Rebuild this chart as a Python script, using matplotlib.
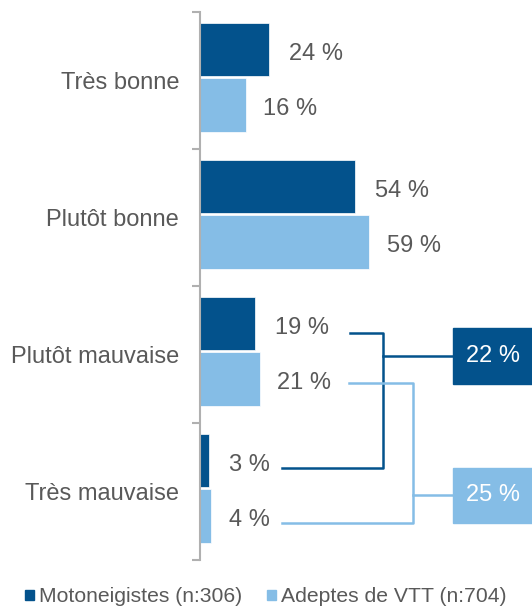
import matplotlib.pyplot as plt
from matplotlib.patches import Patch, Rectangle

plt.rcParams['font.family'] = ['Liberation Sans', 'DejaVu Sans']

# donnees -------------------------------------------------------------
categories = ['Très bonne', 'Plutôt bonne', 'Plutôt mauvaise', 'Très mauvaise']
moto = [24, 54, 19, 3]
vtt = [16, 59, 21, 4]
series_names = ['Motoneigistes (n:306)', 'Adeptes de VTT (n:704)']

dark = '#03528C'
light = '#85BDE6'
grey = '#595959'

fig = plt.figure(figsize=(5.32, 6.09), dpi=100)
ax = fig.add_axes([200 / 532, 49 / 609, 332 / 532, 548 / 609])

y_dark = [i + 0.275 for i in range(len(categories))]
y_light = [i + 0.68 for i in range(len(categories))]
ax.barh(y_dark, moto, height=0.39, color=dark, edgecolor='white', linewidth=0.5)
ax.barh(y_light, vtt, height=0.39, color=light, edgecolor='white', linewidth=0.5)

ax.set_xlim(0, 332 / 2.87)
ax.set_ylim(4, 0)

# etiquettes des barres
for y, v in zip(y_dark, moto):
    ax.text(v + 7, y + 0.03, f'{v} %', ha='left', va='center', fontsize=17, color=grey)
for y, v in zip(y_light, vtt):
    ax.text(v + 6, y + 0.03, f'{v} %', ha='left', va='center', fontsize=17, color=grey)

# axe
ax.set_yticks(range(5))
ax.set_yticklabels([])
ax.set_yticks([i + 0.5 for i in range(4)], minor=True)
ax.set_yticklabels(categories, minor=True, fontsize=17, color=grey)
ax.tick_params(axis='y', which='major', length=6, color='#B0B0B0', width=1.5)
ax.tick_params(axis='y', which='minor', length=0, pad=15)
ax.set_xticks([])
for s in ['top', 'right', 'bottom']:
    ax.spines[s].set_visible(False)
ax.spines['left'].set_color('#B0B0B0')
ax.spines['left'].set_linewidth(1.5)

# accolades -> totaux "mauvaise"
tot_moto = moto[2] + moto[3]
tot_vtt = vtt[2] + vtt[3]
box_x0, box_x1 = 88.2, 332 / 2.87
lw = 1.8

xv = 63.8
y1, y2 = y_dark[2] + 0.07, y_dark[3] + 0.05
ax.plot([52.3, xv, xv, 28.6], [y1, y1, y2, y2], color=dark, lw=lw, clip_on=False)
ym = (2.307 + 2.715) / 2
ax.plot([xv, box_x0], [ym, ym], color=dark, lw=lw, clip_on=False)
ax.add_patch(Rectangle((box_x0, 2.307), box_x1 - box_x0, 0.408, color=dark, clip_on=False))
ax.text((box_x0 + box_x1) / 2, ym, f'{tot_moto} %', ha='center', va='center', fontsize=17, color='white')

xv = 74.2
y1, y2 = y_light[2] + 0.03, y_light[3] + 0.05
ax.plot([51.9, xv, xv, 28.6], [y1, y1, y2, y2], color=light, lw=lw, clip_on=False)
ym = (3.328 + 3.730) / 2
ax.plot([xv, box_x0], [ym, ym], color=light, lw=lw, clip_on=False)
ax.add_patch(Rectangle((box_x0, 3.328), box_x1 - box_x0, 0.402, color=light, clip_on=False))
ax.text((box_x0 + box_x1) / 2, ym, f'{tot_vtt} %', ha='center', va='center', fontsize=17, color='white')

# legende
handles = [Patch(color=dark, label=series_names[0]), Patch(color=light, label=series_names[1])]
leg = fig.legend(handles=handles, loc='center', bbox_to_anchor=(0.5, 12 / 609), ncol=2, frameon=False,
                 fontsize=15.2, handlelength=0.4, handleheight=0.4, handletextpad=0.25, columnspacing=1.2)
for t in leg.get_texts():
    t.set_color(grey)

plt.savefig('out.png', dpi=100)
